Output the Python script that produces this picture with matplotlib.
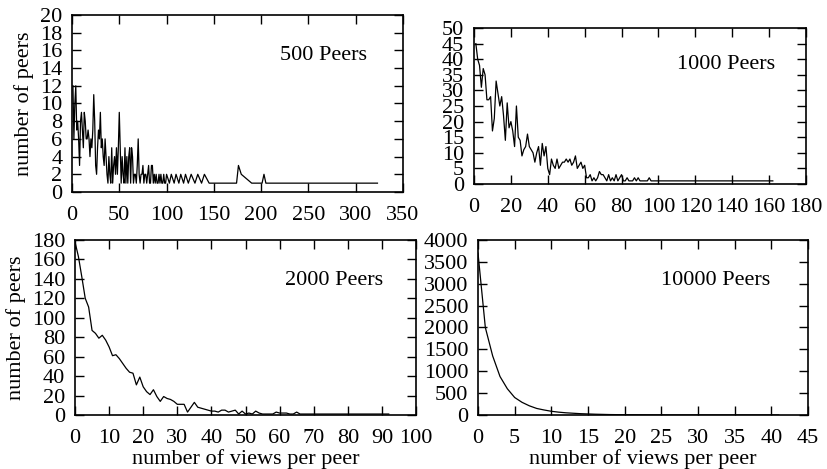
import matplotlib
matplotlib.use('Agg')
import matplotlib.pyplot as plt

plt.rcParams['font.family'] = ['Liberation Serif', 'DejaVu Serif']
plt.rcParams['font.size'] = 16

# 500 peers: views 1..100, then sparse tail
x500 = list(range(1, 101)) + [103, 105, 108, 110, 113, 115, 118, 120, 123, 126, 130, 133,
                              137, 140, 145, 148, 174, 176, 179, 190, 201, 203, 205, 323]
y500 = [12, 6, 10, 12, 7, 8, 6, 3, 8, 9,
        7, 5, 9, 8, 6, 6, 7, 6, 4, 6,
        5, 7, 11, 8, 3, 2, 5, 7, 6, 9,
        5, 6, 4, 3, 6, 4, 2, 1, 4, 2,
        1, 5, 1, 3, 4, 2, 5, 2, 5, 9,
        5, 1, 4, 2, 1, 5, 1, 4, 1, 4,
        5, 1, 5, 4, 1, 2, 2, 1, 3, 6,
        2, 1, 2, 2, 3, 1, 2, 2, 1, 2,
        3, 1, 1, 3, 3, 1, 2, 1, 2, 1,
        1, 2, 1, 2, 1, 1, 2, 1, 1, 2] + \
       [1, 2, 1, 2, 1, 2, 1, 2, 1, 2, 1, 2,
        1, 2, 1, 1, 1, 3, 2, 1, 1, 2, 1, 1]

# 1000 peers
x1000 = list(range(1, 101)) + [162]
y1000 = [45, 40, 38, 31, 37, 35, 27, 27, 28, 17,
         21, 33, 29, 25, 28, 22, 14, 26, 18, 20,
         17, 12, 25, 15, 14, 9, 11, 12, 16, 12,
         11, 10, 7, 10, 12, 6, 13, 9, 12, 5,
         3, 8, 6, 5, 8, 5, 6, 7, 7, 8,
         7, 8, 6, 7, 9, 5, 6, 7, 5, 6,
         2, 2, 3, 1, 2, 1, 2, 4, 3, 3,
         2, 1, 3, 1, 2, 1, 3, 1, 2, 3,
         1, 1, 2, 1, 1, 1, 2, 1, 2, 1,
         1, 1, 1, 1, 2, 1, 1, 1, 1, 1] + [1]

# 2000 peers
x2000 = list(range(0, 93))
y2000 = [178, 163, 142, 120, 111, 87, 84, 79, 82, 77,
         70, 61, 62, 58, 53, 48, 44, 43, 31, 39,
         29, 24, 21, 26, 19, 14, 19, 17, 16, 14,
         11, 11, 11, 3, 8, 13, 8, 7, 6, 5,
         4, 4, 3, 5, 5, 3, 4, 5, 1, 4,
         1, 2, 1, 4, 2, 1, 1, 1, 1, 3,
         2, 2, 2, 1, 1, 3, 1, 1, 1, 1,
         1, 1, 1, 1, 1, 1, 1, 1, 1, 1,
         1, 1, 1, 1, 1, 1, 1, 1, 1, 1,
         1, 1, 1]

# 10000 peers
x10000 = list(range(0, 42))
y10000 = [3700, 2000, 1350, 880, 600, 400, 290, 210, 150, 115,
          85, 65, 50, 40, 30, 24, 18, 14, 10, 8,
          6, 5, 4, 3, 2, 2, 1, 1, 1, 1,
          1, 1, 1, 1, 1, 1, 1, 1, 1, 1,
          1, 1]

W, H = 827, 469
fig = plt.figure(figsize=(W / 100, H / 100), dpi=100)


def add_panel(left, right, top, bottom):
    return fig.add_axes([left / W, 1 - bottom / H, (right - left) / W, (bottom - top) / H])


panels = [
    (add_panel(72, 403, 15, 192), x500, y500, '500 Peers', (0, 350, 50), (0, 20, 2), (0.891, 0.774)),
    (add_panel(474, 806, 28, 184), x1000, y1000, '1000 Peers', (0, 180, 20), (0, 50, 5), (0.907, 0.763)),
    (add_panel(75, 416, 240, 415), x2000, y2000, '2000 Peers', (0, 100, 10), (0, 180, 20), (0.903, 0.771)),
    (add_panel(478, 808, 240, 415), x10000, y10000, '10000 Peers', (0, 45, 5), (0, 4000, 500), (0.885, 0.771)),
]

for ax, xs, ys, title, xr, yr, tpos in panels:
    ax.plot(xs, ys, color='black', linewidth=0.9)
    ax.set_xlim(xr[0], xr[1])
    ax.set_ylim(yr[0], yr[1])
    ax.set_xticks(range(xr[0], xr[1] + 1, xr[2]))
    ax.set_yticks(range(yr[0], yr[1] + 1, yr[2]))
    ax.tick_params(direction='in', top=True, right=True, length=6.5, width=1)
    ax.tick_params(axis='x', pad=10)
    ax.tick_params(axis='y', pad=7)
    for s in ax.spines.values():
        s.set_linewidth(1.2)
    ax.text(tpos[0], tpos[1], title, transform=ax.transAxes, ha='right', va='center')

panels[0][0].set_ylabel('number of peers')
panels[2][0].set_ylabel('number of peers')
panels[2][0].set_xlabel('number of views per peer', labelpad=1)
panels[3][0].set_xlabel('number of views per peer', labelpad=1)

fig.savefig('out.png', dpi=100)
